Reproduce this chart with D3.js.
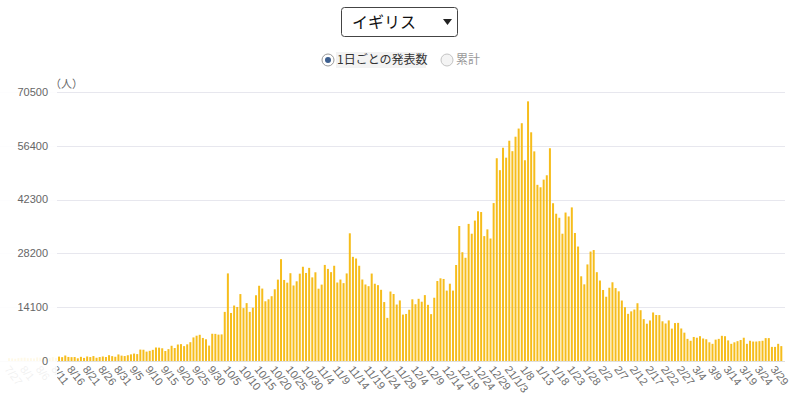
<!DOCTYPE html>
<html>
<head>
<meta charset="utf-8">
<script src="https://cdnjs.cloudflare.com/ajax/libs/d3/7.8.5/d3.min.js"></script>
<style>
  body { margin: 0; background: #fff; }
  #chart { width: 800px; height: 393px; }
  text { font-family: 'Helvetica Neue', Arial, 'Liberation Sans', 'Noto Sans CJK JP', sans-serif; }
  .jp { font-family: 'Noto Sans CJK JP', sans-serif; }
</style>
</head>
<body>
<div id="chart"></div>
<script>
/* globals d3 */

// Selected country and view
var country = 'イギリス';
var viewLabels = ['1日ごとの発表数', '累計'];
var unitLabel = '（人）';

// Daily reported cases, one value per day starting at startDate
var startDate = new Date(2020, 6, 27);
var casesJul = [750, 690, 580, 760, 850];
var casesAug = [880, 740, 740, 670, 940, 890, 950, 870, 760, 1060, 820,
    1150, 1010, 1440, 1060, 1010, 1040, 710, 1090, 810, 1180,
    1030, 1290, 850, 1040, 1180, 1050, 1520, 1280, 1110, 1720];
var casesSep = [1410, 1300, 1510, 1740, 1940, 1810, 2990, 2950, 2460, 2660,
    2920, 3540, 3500, 3330, 2620, 3110, 3990, 3400, 4320, 4420,
    3900, 4370, 4930, 6180, 6630, 6870, 6040, 5690, 4040, 7140];
var casesOct = [7110, 6910, 6970, 12870, 22960, 12590, 14540, 14160, 17540, 13860,
    15170, 12870, 13970, 17230, 19720, 18980, 15650, 16170, 16980, 18800,
    21330, 26690, 21240, 20530, 23010, 19790, 20890, 22890, 24700, 23070,
    24410];
var casesNov = [21920, 23250, 18950, 20020, 25180, 24140, 23290, 24960, 20570, 21350,
    20410, 22950, 33470, 27300, 26860, 24960, 21360, 20050, 19610, 22920,
    20250, 19880, 18660, 15450, 11300, 18210, 17560, 14800, 15870, 12160];
var casesDec = [12330, 13430, 16170, 14880, 16300, 15540, 17270, 14720, 12280, 16580,
    20960, 21670, 21500, 18450, 20260, 18450, 25160, 35380, 28510, 27050,
    35930, 33360, 36800, 39240, 39040, 32730, 34500, 32100, 41390, 53140,
    50020];
var casesJan = [55890, 53290, 57730, 54990, 58780, 60920, 62320, 52620, 68050, 59940,
    54940, 46170, 45530, 47530, 48680, 55760, 41350, 38600, 37540, 33360,
    38910, 37890, 40260, 33550, 30000, 22200, 20090, 25310, 28680, 29080,
    23280];
var casesFeb = [21090, 18610, 16840, 19200, 20630, 19110, 18260, 15850, 14100, 12360,
    13010, 13490, 15140, 13310, 10970, 9770, 10630, 12720, 12060, 12030,
    10410, 9830, 10640, 8490, 9940, 9990, 8520, 7430];
var casesMar = [5800, 5300, 6300, 6100, 6500, 5900, 5700, 4900, 4500, 5600,
    5800, 6600, 6500, 5400, 4500, 4900, 5200, 5500, 6100, 4500,
    5300, 5100, 5100, 5200, 5300, 6000, 6000, 3700, 3700, 4500,
    3900];

// Axis ticks
var yTicks = [0, 14100, 28200, 42300, 56400, 70500];
var xTickStep = 5; // days between date labels

var barColor = '#f6bd1c';
var gridColor = '#e7e7ee';

function add_days(date, days) {
    var copy = new Date(Number(date));
    copy.setDate(date.getDate() + days);
    return copy;
}

function tick_label(d) {
    // first label of the new year carries the short year
    var prev = add_days(d, -xTickStep);
    if (prev.getFullYear() !== d.getFullYear()) {
        return String(d.getFullYear()).slice(2) + '/' + (d.getMonth() + 1) + '/' + d.getDate();
    }
    return (d.getMonth() + 1) + '/' + d.getDate();
}

function draw_chart() {
    var values = [].concat(casesJul, casesAug, casesSep, casesOct, casesNov,
        casesDec, casesJan, casesFeb, casesMar);
    var data = values.map(function(v, i) {
        return {date: add_days(startDate, i), value: v};
    });

    var svg = d3.select('#chart').append('svg')
        .attr('width', 800)
        .attr('height', 393);

    var x = d3.scaleTime()
        .domain([data[0].date, data[data.length - 1].date])
        .range([9, 781.3]);
    var y = d3.scaleLinear()
        .domain([0, 70500])
        .range([361, 92]);

    // Grid lines
    svg.append('g')
        .attr('class', 'grid')
        .selectAll('line')
        .data(yTicks)
        .enter().append('line')
        .attr('x1', 0)
        .attr('x2', 785)
        .attr('y1', function(d) { return Math.round(y(d)) + 0.5; })
        .attr('y2', function(d) { return Math.round(y(d)) + 0.5; })
        .attr('stroke', function(d) { return d === 0 ? '#dedede' : gridColor; })
        .attr('stroke-width', 1);

    // Bars
    var bar_width = 2;
    svg.append('g')
        .attr('class', 'bars')
        .selectAll('rect')
        .data(data)
        .enter().append('rect')
        .attr('x', function(d) { return x(d.date) - bar_width / 2; })
        .attr('y', function(d) { return y(d.value); })
        .attr('width', bar_width)
        .attr('height', function(d) { return y(0) - y(d.value); })
        .attr('fill', barColor);

    // Date labels, every 5 days
    var tick_dates = [];
    for (var t = 0; t < data.length; t += xTickStep) {
        tick_dates.push(data[t].date);
    }
    svg.append('g')
        .attr('class', 'x axis')
        .selectAll('text')
        .data(tick_dates)
        .enter().append('text')
        .attr('transform', function(d) { return 'translate(' + (x(d) - 2) + ',367) rotate(52)'; })
        .attr('dy', '0.35em')
        .attr('font-size', '11px')
        .attr('fill', '#6e6e6e')
        .style('text-anchor', 'start')
        .text(tick_label);

    // Fixed y axis panel covering the scrolled part of the chart
    svg.append('rect')
        .attr('x', 0)
        .attr('y', 76)
        .attr('width', 57)
        .attr('height', 317)
        .attr('fill', '#fff')
        .attr('opacity', 0.9);

    svg.append('g')
        .attr('class', 'y axis')
        .selectAll('text')
        .data(yTicks)
        .enter().append('text')
        .attr('x', 48)
        .attr('y', function(d) { return y(d); })
        .attr('dy', '0.35em')
        .attr('font-size', '11px')
        .attr('fill', '#666')
        .style('text-anchor', 'end')
        .text(function(d) { return d; });

    svg.append('text')
        .attr('class', 'jp')
        .attr('x', 50)
        .attr('y', 88)
        .attr('font-size', '11px')
        .attr('fill', '#666')
        .text(unitLabel);

    // Country select box
    var sel = svg.append('g').attr('transform', 'translate(341,7)');
    sel.append('rect')
        .attr('x', 0.5)
        .attr('y', 0.5)
        .attr('width', 116)
        .attr('height', 29)
        .attr('rx', 3)
        .attr('fill', '#fff')
        .attr('stroke', '#444');
    sel.append('text')
        .attr('class', 'jp')
        .attr('x', 11)
        .attr('y', 15)
        .attr('dy', '0.35em')
        .attr('font-size', '16px')
        .attr('fill', '#111')
        .text(country);
    sel.append('path')
        .attr('d', 'M102,12 L111,12 L106.5,18 Z')
        .attr('fill', '#222');

    // View radio buttons
    var radios = svg.append('g').attr('transform', 'translate(0,60)');
    radios.append('rect')
        .attr('x', 336)
        .attr('y', -8)
        .attr('width', 90)
        .attr('height', 16)
        .attr('fill', '#f3f3f3');
    radios.append('circle')
        .attr('cx', 328)
        .attr('cy', 0)
        .attr('r', 6)
        .attr('fill', '#fff')
        .attr('stroke', '#9a9a9a');
    radios.append('circle')
        .attr('cx', 328)
        .attr('cy', 0)
        .attr('r', 3)
        .attr('fill', '#3d5f8f');
    radios.append('text')
        .attr('class', 'jp')
        .attr('x', 337)
        .attr('dy', '0.35em')
        .attr('font-size', '12px')
        .attr('fill', '#333')
        .text(viewLabels[0]);
    radios.append('circle')
        .attr('cx', 447)
        .attr('cy', 0)
        .attr('r', 6)
        .attr('fill', '#f4f4f4')
        .attr('stroke', '#c4c4c4');
    radios.append('text')
        .attr('class', 'jp')
        .attr('x', 456)
        .attr('dy', '0.35em')
        .attr('font-size', '12px')
        .attr('fill', '#999')
        .text(viewLabels[1]);
}

draw_chart();
</script>
</body>
</html>
